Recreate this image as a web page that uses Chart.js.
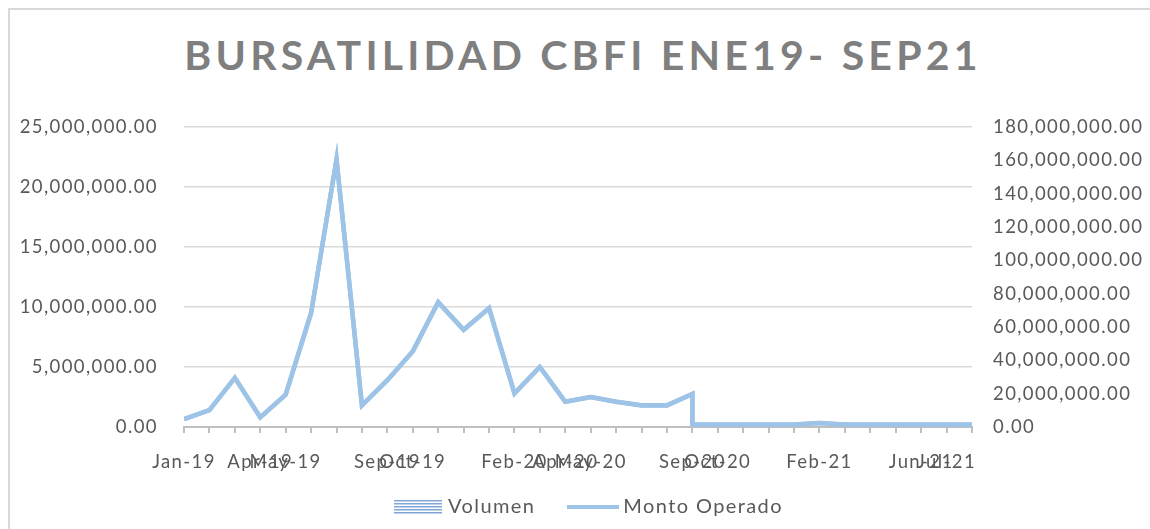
<!DOCTYPE html>
<html lang="es">
<head>
<meta charset="UTF-8">
<title>Bursatilidad CBFI</title>
<script src="https://cdn.jsdelivr.net/npm/chart.js"></script>
<style>
    body { margin: 0; background: #fff; overflow: hidden; }
    .marco {
        position: absolute; left: 8px; top: 8px; width: 1300px; height: 700px;
        border-left: 2px solid #d9d9d9; border-top: 2px solid #d9d9d9;
    }
    .titulo {
        position: absolute; left: 0; top: 30px; width: 1166px;
        text-align: center; font-family: Lato, sans-serif; font-size: 41px;
        font-weight: bold; letter-spacing: 4.2px; color: #7f7f7f;
    }
    .caja { position: absolute; left: 0; top: 0; width: 1150px; height: 529px; }
</style>
</head>
<body>
<div class="marco"></div>
<div class="titulo">BURSATILIDAD CBFI ENE19- SEP21</div>
<div class="caja"><canvas id="grafica"></canvas></div>

<script>
// posicion mensual de cada dato (0 = Jan-19); sep-20 lleva dos registros
const mes = [0, 1, 2, 3, 4, 5, 6, 7, 8, 9, 10, 11, 12, 13, 14, 15, 16, 17, 18, 19, 20,
             20, 21, 22, 23, 24, 25, 26, 27, 28, 29, 30, 31];

const volumen = [650000, 1400000, 4100000, 800000, 2700000, 9500000, 22300000, 1800000,
                 3900000, 6300000, 10400000, 8100000, 9900000, 2800000, 5000000, 2100000,
                 2500000, 2100000, 1800000, 1800000, 2750000,
                 200000, 200000, 200000, 200000, 200000, 330000, 200000, 200000, 200000,
                 200000, 200000, 200000];

const montoOperado = [4700000, 10100000, 29500000, 5800000, 19400000, 68400000, 160600000, 13000000,
                      28100000, 45400000, 74900000, 58300000, 71300000, 20200000, 36000000, 15100000,
                      18000000, 15100000, 13000000, 13000000, 19800000,
                      1400000, 1400000, 1400000, 1400000, 1400000, 2400000, 1400000, 1400000, 1400000,
                      1400000, 1400000, 1400000];

// etiquetas del eje x, una por mes (vacias donde no hay texto)
const etiquetas = ['Jan-19', '', '', 'Apr-19', 'May-19', '', '', '', 'Sep-19', 'Oct-19', '', '', '',
                   'Feb-20', '', 'Apr-20', 'May-20', '', '', '', 'Sep-20', 'Oct-20', '', '', '',
                   'Feb-21', '', '', '', 'Jun-21', 'Jul-21', ''];

const azul = '#9dc3e6';
const gris = '#595959';
const fuente = { family: 'Lato, sans-serif', size: 18.5 };

function formato(v) {
    return Number(v).toLocaleString('en-US', { minimumFractionDigits: 2, maximumFractionDigits: 2 });
}

// marcadores de la leyenda
function marcadorVolumen() {
    const c = document.createElement('canvas');
    c.width = 48; c.height = 14;
    const g = c.getContext('2d');
    g.fillStyle = '#ffffff';
    g.fillRect(0, 0, 48, 14);
    g.fillStyle = '#7fa6d4';
    for (let y = 0; y < 14; y += 3) g.fillRect(0, y, 48, 1.5);
    return c;
}
function marcadorMonto() {
    const c = document.createElement('canvas');
    c.width = 52; c.height = 4;
    const g = c.getContext('2d');
    g.fillStyle = azul;
    g.fillRect(0, 0, 52, 4);
    return c;
}
const marcas = [marcadorVolumen(), marcadorMonto()];

// ancho fijo de un eje y sin recorte de sus etiquetas
function fijarAncho(w) {
    return ax => { ax.width = w; ax._computeLabelArea = () => undefined; };
}

// espaciado entre letras y alto fijo de la leyenda
const ajustes = {
    id: 'ajustes',
    beforeUpdate(chart) { chart.ctx.letterSpacing = '1.4px'; },
    beforeDraw(chart) { chart.ctx.letterSpacing = '1.4px'; },
    beforeLayout(chart) {
        const lg = chart.legend;
        if (lg && !lg._altoFijo) {
            const fit = lg.fit;
            lg.fit = function () { fit.call(this); this.height = 70; };
            lg._altoFijo = true;
        }
    }
};

new Chart(document.getElementById('grafica'), {
    type: 'line',
    data: {
        datasets: [
            {
                label: 'Volumen',
                data: mes.map((m, i) => ({ x: m, y: volumen[i] })),
                yAxisID: 'y',
                borderColor: azul,
                borderWidth: 4.5,
                pointRadius: 0,
                tension: 0
            },
            {
                label: 'Monto Operado',
                data: mes.map((m, i) => ({ x: m, y: montoOperado[i] })),
                yAxisID: 'y1',
                borderColor: azul,
                borderWidth: 4.5,
                pointRadius: 0,
                tension: 0
            }
        ]
    },
    options: {
        responsive: true,
        maintainAspectRatio: false,
        animation: false,
        layout: { padding: { left: 31, right: 0, top: 127, bottom: 0 } },
        plugins: {
            tooltip: { enabled: false },
            legend: {
                position: 'bottom',
                labels: {
                    usePointStyle: true,
                    pointStyleWidth: 40,
                    font: { family: 'Lato, sans-serif', size: 20 },
                    color: gris,
                    padding: 38,
                    generateLabels: chart => chart.data.datasets.map((d, i) => ({
                        text: d.label,
                        pointStyle: marcas[i],
                        fillStyle: 'transparent',
                        strokeStyle: 'transparent',
                        lineWidth: 0,
                        fontColor: gris,
                        hidden: false,
                        datasetIndex: i
                    }))
                }
            }
        },
        scales: {
            x: {
                type: 'linear',
                min: 0,
                max: 31,
                afterBuildTicks: ax => { ax.ticks = etiquetas.map((e, i) => ({ value: i })); },
                afterFit: ax => { ax.height = 32; ax._computeLabelArea = () => undefined; },
                ticks: {
                    autoSkip: false,
                    maxRotation: 0,
                    minRotation: 0,
                    padding: 18,
                    font: fuente,
                    color: gris,
                    callback: v => etiquetas[v] || ''
                },
                grid: { drawOnChartArea: false, color: '#bfbfbf', lineWidth: 2, tickLength: 6 },
                border: { color: '#bfbfbf', width: 2 }
            },
            y: {
                position: 'left',
                min: 0,
                max: 25000000,
                afterFit: fijarAncho(153),
                ticks: { stepSize: 5000000, callback: formato, font: fuente, color: gris, padding: 26 },
                grid: {
                    drawTicks: false,
                    lineWidth: 1.5,
                    color: c => c.tick.value === 0 ? 'rgba(0,0,0,0)' : '#d9d9d9'
                },
                border: { display: false }
            },
            y1: {
                position: 'right',
                min: 0,
                max: 180000000,
                afterFit: fijarAncho(178),
                ticks: { stepSize: 20000000, callback: formato, font: fuente, color: gris, padding: 21 },
                grid: { drawOnChartArea: false, drawTicks: false },
                border: { display: false }
            }
        }
    },
    plugins: [ajustes]
});
</script>
</body>
</html>
